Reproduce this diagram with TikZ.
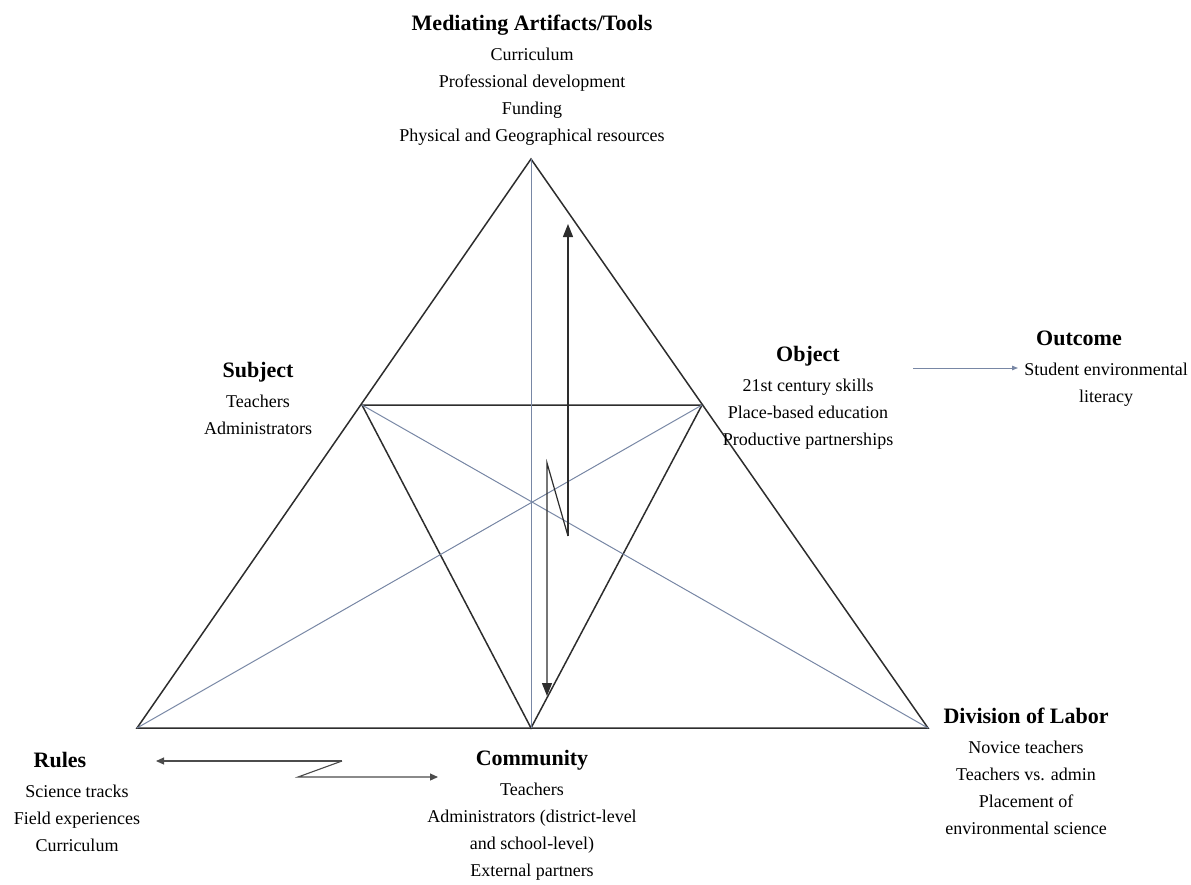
\documentclass[tikz,border=0pt]{standalone}
\usepackage{fontspec}
\setmainfont{Liberation Serif}
\usetikzlibrary{positioning,arrows.meta}

\definecolor{guidecol}{RGB}{120,135,165}
\definecolor{sidecol}{RGB}{45,45,45}

\tikzset{
  title/.style={font=\fontsize{22}{26}\selectfont\bfseries, inner sep=0pt,
    text height=16pt, text depth=5pt},
  items/.style={font=\fontsize{18}{27}\selectfont, align=center, inner sep=0pt},
  side/.style={line width=1.5pt, draw=sidecol},
  guide/.style={line width=1pt, draw=guidecol},
  flow/.style={line width=1.2pt, draw=sidecol, -{Triangle[length=13pt,width=10pt]}},
  smallflow/.style={line width=1.1pt, draw=black!70, -{Triangle[length=8pt,width=7pt]}},
}

\begin{document}
\begin{tikzpicture}[x=1pt,y=-1pt]
\useasboundingbox (0,0) rectangle (1191,884);
\coordinate (T) at (531,159);
\coordinate (L) at (137,728);
\coordinate (R) at (928,728);
\coordinate (B) at (531,728);
\coordinate (P) at (362,405);
\coordinate (Q) at (702,405);
\draw[side] (L) -- (T) -- (R) -- cycle;
\draw[side] (P) -- (Q) -- (B) -- cycle;
\draw[guide] (T) -- (B);
\draw[guide] (L) -- (Q);
\draw[guide] (P) -- (R);
% arrows inside the triangle
\coordinate (up1) at (568,536);
\coordinate (up2) at (568,224);
\coordinate (zig) at (547,463);
\coordinate (down) at (547,696);
\draw[flow] (up1) -- (up2);
\draw[flow] (up1) -- (zig) -- (down);
% arrows under the triangle
\coordinate (ra) at (342,761);
\coordinate (rb) at (298,777);
\coordinate (rl) at (156,761);
\coordinate (rr) at (438,777);
\draw[smallflow] (ra) -- (rl);
\draw[smallflow] (ra) -- (rb) -- (rr);
% labels
\node[title] (tools) at (532,25) {Mediating Artifacts/Tools};
\node[items, below=12pt of tools] (toolsitems) {Curriculum\\Professional development\\Funding\\Physical and Geographical resources};
\node[title] (subject) at (258,372) {Subject};
\node[items, below=12pt of subject] (subjectitems) {Teachers\\Administrators};
\node[title] (object) at (808,356) {Object};
\node[items, below=12pt of object] (objectitems) {21st century skills\\Place-based education\\Productive partnerships};
\node[title] (outcome) at (1079,340) {Outcome};
\node[items, below=12pt of outcome, xshift=27pt] (outcomeitems) {Student environmental\\literacy};
\node[title] (rules) at (60,762) {Rules};
\node[items, below=12pt of rules, xshift=17pt] (rulesitems) {Science tracks\\Field experiences\\Curriculum};
\node[title] (community) at (532,760) {Community};
\node[items, below=12pt of community] (communityitems) {Teachers\\Administrators (district-level\\and school-level)\\External partners};
\node[title] (labor) at (1026,718) {Division of Labor};
\node[items, below=12pt of labor] (laboritems) {Novice teachers\\Teachers vs. admin\\Placement of\\environmental science};
% outcome arrow
\coordinate (oa) at (913,368);
\coordinate (ob) at (1018,368);
\draw[line width=1pt, draw=guidecol, -{Triangle[length=6pt,width=4.5pt]}] (oa) -- (ob);
\end{tikzpicture}
\end{document}
